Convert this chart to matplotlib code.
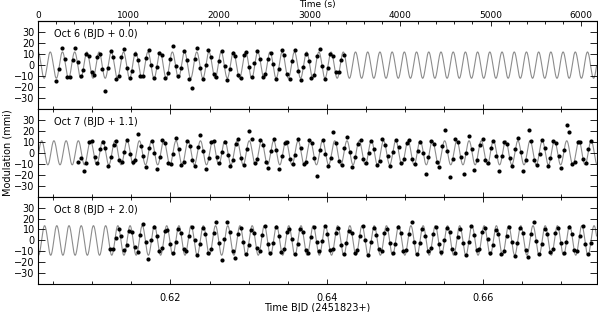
import numpy as np
import matplotlib
matplotlib.use("Agg")
import matplotlib.pyplot as plt
from matplotlib.ticker import MultipleLocator, FixedLocator, FormatStrFormatter

plt.rcParams['font.family'] = ['DejaVu Sans']
plt.rcParams['font.size'] = 7

# time axis: seconds since BJD 2451823.60308
bjd_start = 0.60308
t_max = 6172.0
cadence = 30.0

nights = ['Oct 6 (BJD + 0.0)', 'Oct 7 (BJD + 1.1)', 'Oct 8 (BJD + 2.0)']
t_first = [200.0, 443.0, 797.5]

# pulsation model per night (period s, amplitude mmi, epoch of maximum s)
model_period = [135.0, 135.0, 135.0]
model_amp = [12.0, 11.0, 13.5]
model_t0 = [132.5, 38.0, 70.0]

oct6_mod = [
    -14.6, -3.7, 15.3, 6.0, -10.9, -10.9, 4.5, 15.3, 2.5,
    -10.0, -4.6, 9.7, 8.5, -6.0, -9.0, 7.5, 10.0, -4.0,
    -24.0, -3.0, 13.0, 7.5, -12.5, -9.5, 7.0, 15.0, -2.5,
    -12.0, -5.0, 10.5, 5.0, -10.0, -9.5, 6.5, 13.5, 0.5,
    -11.5, -1.5, 11.0, 9.5, -12.0, -7.0, 6.0, 17.5, -1.0,
    -9.5, -2.5, 12.5, 4.5, -12.5, -21.0, 5.5, 15.5, -3.0,
    -13.0, 0.5, 14.0, 7.0, -8.0, -11.0, 4.0, 12.5, -1.0,
    -13.5, -4.0, 11.5, 8.0, -9.0, -12.0, 9.5, 12.0, -2.0,
    -10.5, 2.0, 13.0, 5.5, -11.0, -8.5, 6.0, 11.0, 1.0,
    -13.0, -3.5, 14.0, 9.0, -8.0, -12.5, 3.5, 13.5, -5.0,
    -14.0, -2.0, 10.5, 4.0, -12.0, -9.0, 8.0, 14.5, -1.0,
    -12.5, -2.5, 10.0, 8.0, -6.0, -6.5, 4.5, 9.0,
]

oct7_mod = [
    -8.3, -5.0, -16.5, -9.0, 10.0, 11.0, -4.0, -9.5, 3.0,
    9.5, 4.0, -12.0, -3.5, 7.5, 10.5, -7.0, -8.5, 1.0,
    12.0, -1.0, -8.0, -6.5, 17.0, 6.5, -3.0, -13.0, 4.5,
    11.0, 0.0, -15.0, -4.0, 12.0, 9.0, -9.0, -10.5, -1.0,
    13.5, 3.5, -11.0, -8.0, 10.5, 6.0, -6.5, -12.0, 5.0,
    16.0, 1.5, -15.0, -4.5, 9.5, 11.0, -3.5, -9.0, 0.5,
    10.0, -2.0, -12.5, -7.0, 8.0, 12.5, -5.0, -11.5, 3.5,
    20.2, 13.0, -9.5, -6.0, 11.5, 7.0, -8.5, -13.5, 1.5,
    12.5, 2.5, -15.0, -3.0, 9.0, 10.0, -6.0, -10.0, -2.0,
    13.0, 4.0, -10.5, -8.0, 12.0, 8.5, -4.5, -21.0, 2.5,
    11.5, -1.5, -12.0, -5.0, 19.3, 9.0, -7.5, -11.0, 4.0,
    14.0, 0.5, -13.0, -3.5, 8.0, 12.0, -6.0, -9.0, -0.5,
    10.5, 3.0, -11.5, -7.5, 13.0, 7.5, -2.5, -12.5, 1.0,
    12.0, 5.5, -9.0, -6.0, 9.0, 11.5, -5.5, -10.0, 2.0,
    9.5, -0.5, -19.0, -4.0, 10.5, 8.0, -8.0, -13.0, 6.0,
    20.8, 2.0, -22.0, -5.5, 12.5, 9.5, -4.0, -19.6, 0.0,
    15.0, 3.5, -15.6, -7.0, 7.5, 13.0, -6.5, -9.5, 4.5,
    11.0, -2.5, -17.0, -3.0, 10.0, 8.0, -4.5, -12.0, 3.0,
    13.5, 1.0, -17.0, -6.5, 20.8, 10.5, -7.0, -11.0, -1.0,
    12.0, 4.5, -12.5, -5.0, 11.0, 9.0, -3.0, -14.0, 2.5,
    25.7, 19.3, -10.0, -8.0, 9.5, 10.0, -5.5, -9.5, 3.0, 11.0,
]

oct8_mod = [
    -7.6, -8.0, 2.5, 10.0, 4.0, -8.5, -4.0, 9.0, 7.5,
    -6.0, -10.5, 5.0, 15.0, -1.0, -17.0, 0.5, 12.0, 4.5,
    -10.0, -7.0, 8.5, 9.5, -3.0, -11.5, -1.5, 10.5, 7.0,
    -8.0, -10.0, 4.0, 12.5, 0.0, -13.5, -3.5, 11.5, 5.5,
    -11.0, -7.5, 7.0, 16.5, -2.5, -18.0, 1.0, 16.5, 8.0,
    -9.5, -16.0, 6.0, 11.0, -1.0, -12.0, -4.5, 9.5, 6.5,
    -7.0, -9.5, 5.0, 13.0, -3.0, -11.0, -2.0, 12.0, 4.0,
    -10.5, -8.0, 7.5, 10.5, 1.5, -12.5, -3.0, 10.0, 8.0,
    -8.5, -11.0, 3.5, 12.0, -1.5, -10.0, -0.5, 13.5, 6.0,
    -9.0, -7.5, 6.5, 11.5, -4.0, -12.0, -2.5, 9.0, 7.0,
    -11.5, -9.0, 4.5, 13.0, 0.5, -13.0, -1.0, 11.0, 5.0,
    -7.5, -10.0, 7.0, 10.0, -2.0, -11.5, -3.5, 12.5, 6.5,
    -9.5, -8.5, 5.5, 17.0, -1.0, -12.5, -2.0, 10.5, 4.5,
    -10.0, -7.0, 6.0, 12.0, -3.5, -10.5, 0.0, 11.0, 7.5,
    -8.0, -11.5, 3.0, 10.5, -2.5, -13.0, -1.5, 13.0, 5.0,
    -9.0, -8.0, 8.0, 11.5, 1.0, -11.0, -4.0, 9.5, 6.0,
    -12.0, -9.5, 4.5, 12.5, -1.5, -14.0, -2.5, 11.5, 7.0,
    -8.5, -15.0, 5.5, 16.5, -0.5, -12.0, -3.0, 10.0, 5.5,
    -10.5, -7.5, 6.5, 11.0, -2.0, -11.5, -1.0, 12.0, 6.0,
    -9.0, -10.0, 4.0, 13.0, -3.5, -12.5, -2.0,
]
night_data = [oct6_mod, oct7_mod, oct8_mod]

sec_ticks = [0, 1000, 2000, 3000, 4000, 5000, 6000]


def to_bjd(t):
    return bjd_start + np.asarray(t) / 86400.0


def to_sec(b):
    return (np.asarray(b) - bjd_start) * 86400.0


fig = plt.figure(figsize=(5.98, 3.12), dpi=100)
left, width = 0.064, 0.9335
bottom0, h = 0.0888, 0.281

t_model = np.linspace(0, t_max, 3000)
axes = []
for i in range(3):
    ax = fig.add_axes([left, bottom0 + (2 - i) * h, width, h])
    axes.append(ax)
    y_model = model_amp[i] * np.cos(2 * np.pi * (t_model - model_t0[i]) / model_period[i])
    ax.plot(to_bjd(t_model), y_model, color='0.55', lw=0.8, zorder=1)
    vals = np.array(night_data[i])
    t_obs = t_first[i] + cadence * np.arange(len(vals))
    ax.plot(to_bjd(t_obs), vals, 'o', color='black', ms=3.0, mew=0, zorder=2)
    ax.text(0.029, 0.85, nights[i], transform=ax.transAxes, ha='left', va='center')

    ax.set_xlim(to_bjd(0), to_bjd(t_max))
    ax.set_ylim(-40, 40)
    ax.set_yticks([-30, -20, -10, 0, 10, 20, 30])
    ax.xaxis.set_major_locator(MultipleLocator(0.02))
    ax.xaxis.set_minor_locator(MultipleLocator(0.005))
    ax.tick_params(axis='y', which='major', direction='in', length=4.8, width=0.6,
                   left=True, right=True, pad=2.5)
    ax.tick_params(axis='x', which='major', direction='in', length=3.5, width=0.6,
                   top=(i > 0), bottom=True, pad=6)
    ax.tick_params(axis='x', which='minor', direction='in', length=2, width=0.6,
                   top=(i > 0), bottom=True)
    for sp in ax.spines.values():
        sp.set_linewidth(0.8)
    if i < 2:
        ax.tick_params(axis='x', labelbottom=False)

axes[2].xaxis.set_major_formatter(FormatStrFormatter('%.2f'))
axes[2].set_xlabel('Time BJD (2451823+)', labelpad=0.3)

sec = axes[0].secondary_xaxis('top', functions=(to_sec, to_bjd))
sec.xaxis.set_major_locator(FixedLocator(sec_ticks))
sec.xaxis.set_minor_locator(FixedLocator(list(range(200, 6200, 200))))
sec.tick_params(which='major', direction='in', length=3.5, width=0.6, pad=1.0, labelsize=6.5)
sec.tick_params(which='minor', direction='in', length=2, width=0.6)

fig.text(left + width / 2, 0.999, 'Time (s)', ha='center', va='top', fontsize=6.5)
fig.text(0.012, 0.51, 'Modulation (mmi)', rotation=90, ha='center', va='center')

fig.savefig('out.png', dpi=100)
